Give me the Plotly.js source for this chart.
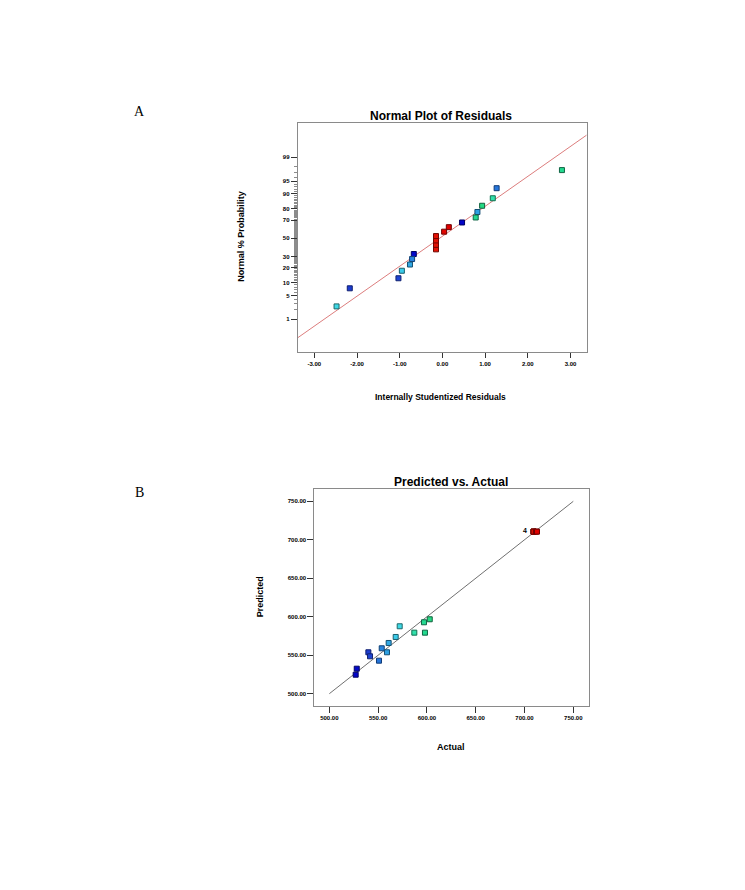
<!DOCTYPE html>
<html>
<head>
<meta charset="utf-8">
<script src="https://cdn.plot.ly/plotly-3.0.1.min.js"></script>
<style>html,body{margin:0;padding:0;background:#fff;}#chart{width:745px;height:890px;}</style>
</head>
<body>
<div id="chart"></div>
<script>
// ---- Data (one entry per run) ----
const actual    = [527.0, 528.1, 540.0, 541.7, 550.9, 553.7, 559.1, 560.8, 568.0, 572.1, 587.1, 597.0, 598.0, 602.9, 709.3, 709.3, 709.3, 709.3, 711.7, 712.8];
const predicted = [524.7, 532.5, 553.8, 548.6, 542.9, 559.0, 553.8, 565.9, 573.7, 587.6, 579.3, 592.8, 579.3, 596.7, 710.6, 710.6, 710.6, 710.6, 710.6, 710.6];
const residual  = [0.46, -0.67, -2.17, -1.03, 1.27, -0.71, 0.82, -0.76, -0.95, -2.48, 1.18, 0.78, 2.80, 0.93, -0.15, -0.15, -0.15, -0.15, 0.04, 0.15];
const normalPct = [67.5, 32.5, 7.5, 12.5, 92.5, 27.5, 77.5, 22.5, 17.5, 2.5, 87.5, 72.5, 97.5, 82.5, 37.5, 42.5, 47.5, 52.5, 57.5, 62.5];

// reference line of the normal plot
const normLineResid = [-3.39, 3.38];
const normLinePct   = [0.21, 99.85];
// identity line of predicted vs actual
const idLine = [500, 750];

// tick labels
const resTickVals  = [-3, -2, -1, 0, 1, 2, 3];
const resTickText  = ['-3.00', '-2.00', '-1.00', '0.00', '1.00', '2.00', '3.00'];
const pctMajor     = [1, 5, 10, 20, 30, 50, 70, 80, 90, 95, 99];
const pctMinor     = Array.from({length: 99}, (_, i) => i + 1);
const pvaTickVals  = [500, 550, 600, 650, 700, 750];
const pvaTickText  = ['500.00', '550.00', '600.00', '650.00', '700.00', '750.00'];
const stackLabel   = '4';

// inverse normal CDF (probability-scale transform of the axis)
function probit(p) {
  const a=[-3.969683028665376e+01,2.209460984245205e+02,-2.759285104469687e+02,1.383577518672690e+02,-3.066479806614716e+01,2.506628277459239e+00];
  const b=[-5.447609879822406e+01,1.615858368580409e+02,-1.556989798598866e+02,6.680131188771972e+01,-1.328068155288572e+01];
  const c=[-7.784894002430293e-03,-3.223964580411365e-01,-2.400758277161838e+00,-2.549732539343734e+00,4.374664141464968e+00,2.938163982698783e+00];
  const d=[7.784695709041462e-03,3.224671290700398e-01,2.445134137142996e+00,3.754408661907416e+00];
  const pl=0.02425, ph=1-pl; let q, r;
  if (p < pl) { q=Math.sqrt(-2*Math.log(p)); return (((((c[0]*q+c[1])*q+c[2])*q+c[3])*q+c[4])*q+c[5])/((((d[0]*q+d[1])*q+d[2])*q+d[3])*q+1); }
  if (p > ph) { q=Math.sqrt(-2*Math.log(1-p)); return -(((((c[0]*q+c[1])*q+c[2])*q+c[3])*q+c[4])*q+c[5])/((((d[0]*q+d[1])*q+d[2])*q+d[3])*q+1); }
  q=p-0.5; r=q*q; return (((((a[0]*r+a[1])*r+a[2])*r+a[3])*r+a[4])*r+a[5])*q/(((((b[0]*r+b[1])*r+b[2])*r+b[3])*r+b[4])*r+1);
}
const z = pcts => pcts.map(v => probit(v / 100));

// ---- styling ----
const W = 745, H = 890;
const px = v => v / W, py = v => 1 - v / H;
const NARROW = '"Liberation Sans Narrow", "Arial Narrow", "Liberation Sans", Arial, sans-serif';
const fillScale = [[0,'#0000c8'],[0.08,'#1e40d0'],[0.16,'#2a90e0'],[0.23,'#3cd0ea'],[0.27,'#40e6e0'],[0.33,'#30e0a8'],[0.4,'#20d888'],[0.55,'#60e040'],[0.7,'#e0e020'],[0.85,'#f08020'],[1,'#e00000']];
const edgeScale = [[0,'#000060'],[0.08,'#102070'],[0.16,'#104878'],[0.25,'#206868'],[0.33,'#107050'],[0.4,'#106040'],[0.7,'#606000'],[1,'#700000']];
const cmin = 526, cmax = 713;
const marker = {
  symbol: 'square', size: 5,
  color: actual, colorscale: fillScale, cmin: cmin, cmax: cmax,
  line: {width: 1, color: actual, colorscale: edgeScale, cmin: cmin, cmax: cmax}
};
const tickFont = {family: NARROW, size: 6, color: '#000', weight: 'bold'};
const frame = {showline: true, mirror: true, linecolor: '#8a8a8a', linewidth: 1, showgrid: false, zeroline: false,
               ticks: 'outside', tickcolor: '#333', tickwidth: 1, tickfont: tickFont, fixedrange: true};

const traces = [
  {x: normLineResid, y: z(normLinePct), xaxis: 'x', yaxis: 'y', mode: 'lines',
   line: {color: 'rgb(220,125,125)', width: 1}, hoverinfo: 'skip'},
  {x: residual, y: z(normalPct), xaxis: 'x', yaxis: 'y', mode: 'markers', marker: marker},
  {x: idLine, y: idLine, xaxis: 'x2', yaxis: 'y2', mode: 'lines',
   line: {color: '#707070', width: 1}, hoverinfo: 'skip'},
  {x: actual, y: predicted, xaxis: 'x2', yaxis: 'y2', mode: 'markers', marker: marker}
];

const ann = (x, y, text, opts) => Object.assign({xref: 'paper', yref: 'paper', x: px(x), y: py(y), text: text,
  showarrow: false, xanchor: 'center', yanchor: 'middle'}, opts || {});

const layout = {
  width: W, height: H, margin: {l: 0, r: 0, t: 0, b: 0},
  paper_bgcolor: '#fff', plot_bgcolor: '#fff', showlegend: false,
  xaxis: Object.assign({}, frame, {domain: [px(297.7), px(586.7)], range: [-3.39, 3.38], anchor: 'y',
    tickmode: 'array', tickvals: resTickVals, ticktext: resTickText, ticklen: 5}),
  yaxis: Object.assign({}, frame, {domain: [py(352.3), py(123.3)], range: [-3.28, 3.306], anchor: 'x',
    tickmode: 'array', tickvals: z(pctMajor), ticktext: pctMajor.map(String), ticklen: 6,
    minor: {tickmode: 'array', tickvals: z(pctMinor), ticks: 'outside', ticklen: 3, tickcolor: '#8c8c8c', tickwidth: 1, showgrid: false}}),
  xaxis2: Object.assign({}, frame, {domain: [px(314.3), px(589)], range: [484.6, 766.1], anchor: 'y2',
    tickmode: 'array', tickvals: pvaTickVals, ticktext: pvaTickText, ticklen: 6}),
  yaxis2: Object.assign({}, frame, {domain: [py(705.7), py(489)], range: [484.4, 766], anchor: 'x2',
    tickmode: 'array', tickvals: pvaTickVals, ticktext: pvaTickText, ticklen: 6}),
  annotations: [
    ann(139, 111, 'A', {font: {family: '"Liberation Serif", "Times New Roman", serif', size: 14, color: '#000'}}),
    ann(139, 492, 'B', {font: {family: '"Liberation Serif", "Times New Roman", serif', size: 14, color: '#000'}}),
    ann(440.7, 115.7, 'Normal Plot of Residuals', {font: {family: NARROW, size: 12, color: '#000', weight: 'bold'}}),
    ann(440.7, 396.7, 'Internally Studentized Residuals', {font: {family: NARROW, size: 8.5, color: '#000', weight: 'bold'}}),
    ann(241, 236.7, 'Normal % Probability', {textangle: -90, font: {family: NARROW, size: 9, color: '#000', weight: 'bold'}}),
    ann(450.7, 481.7, 'Predicted vs. Actual', {font: {family: NARROW, size: 12, color: '#000', weight: 'bold'}}),
    ann(450.7, 746.7, 'Actual', {font: {family: NARROW, size: 9, color: '#000', weight: 'bold'}}),
    ann(260, 597.3, 'Predicted', {textangle: -90, font: {family: NARROW, size: 9, color: '#000', weight: 'bold'}}),
    {xref: 'x2', yref: 'y2', x: 705, y: 712.5, text: stackLabel, showarrow: false, xanchor: 'right', yanchor: 'middle',
     font: {family: NARROW, size: 7, color: '#000', weight: 'bold'}}
  ]
};

Plotly.newPlot('chart', traces, layout, {staticPlot: true, displayModeBar: false});
</script>
</body>
</html>
